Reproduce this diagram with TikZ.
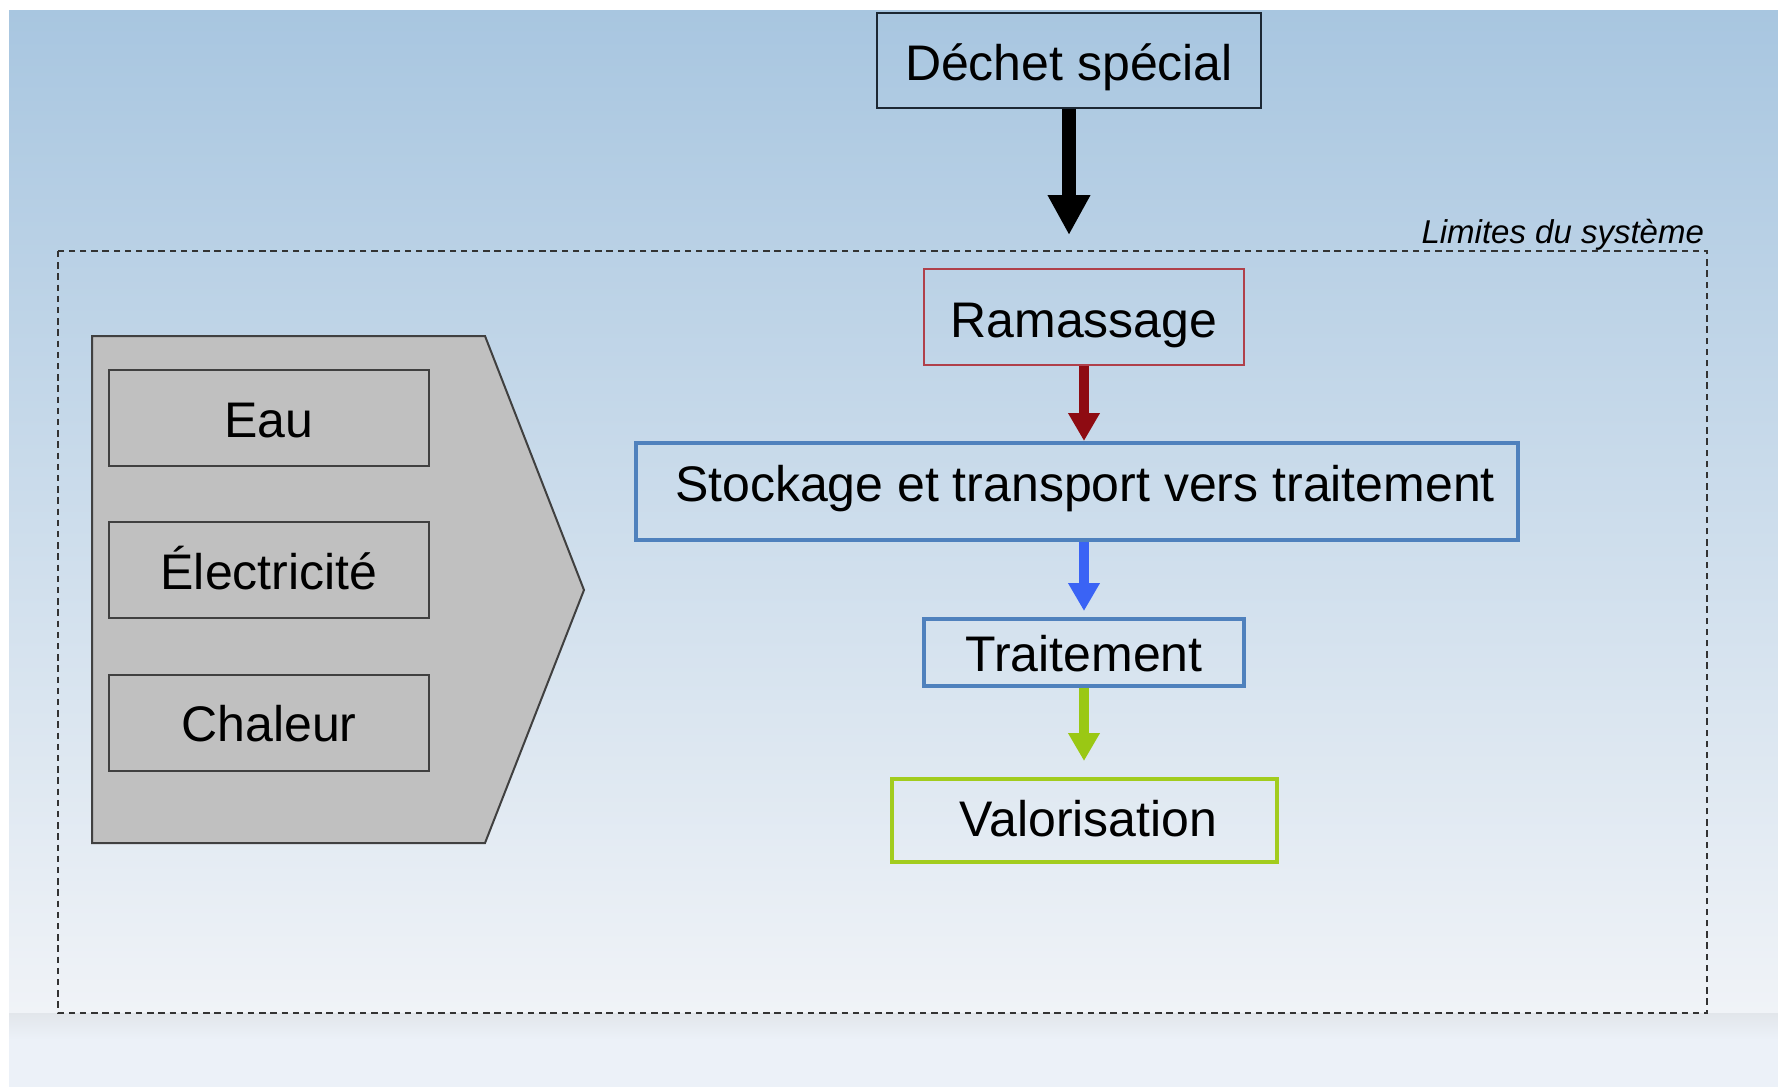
\documentclass[tikz,border=0pt]{standalone}
\usepackage{fontspec}
\setmainfont{Liberation Sans}
\usetikzlibrary{arrows.meta}

\definecolor{bgtop}{HTML}{A8C6E0}
\definecolor{bgmid}{HTML}{D2DEEA}
\definecolor{bgbot}{HTML}{F0F3F7}
\definecolor{bandtop}{HTML}{E2E6EB}
\definecolor{bandbot}{HTML}{ECF1F8}
\definecolor{darkframe}{HTML}{1C2733}
\definecolor{redframe}{HTML}{B0404A}
\definecolor{blueframe}{HTML}{4F81BD}
\definecolor{greenframe}{HTML}{A2CC1E}
\definecolor{redarrow}{HTML}{8E0B12}
\definecolor{bluearrow}{HTML}{3A63F5}
\definecolor{greenarrow}{HTML}{9AC814}
\definecolor{panelfill}{HTML}{C0C0C0}
\definecolor{panelline}{HTML}{404040}

\begin{document}
\begin{tikzpicture}[x=0.5pt,y=-0.5pt,
  label font/.style={font=\fontsize{25pt}{30pt}\selectfont},
  % vertical placement of the caps inside a box
  capline/.style={text height=#1, text depth=0pt},
  stagebox/.style={draw, rectangle, inner sep=0pt, label font, text=black},
  resourcebox/.style={stagebox, draw=panelline, line width=1pt,
    minimum width=160pt, minimum height=48pt, capline=19pt},
  flow/.style={line width=5pt,
    -{Triangle[length=14pt,width=15pt]}},
]
  % page and slide background
  \useasboundingbox (0,0) rectangle (1778,1087);
  \fill[white] (0,0) rectangle (1778,1087);
  \shade[top color=bgtop, middle color=bgmid, bottom color=bgbot]
    (9,10) rectangle (1778,1013);
  \shade[top color=bandtop, bottom color=bandbot]
    (9,1013) rectangle (1778,1040);
  \fill[bandbot] (9,1040) rectangle (1778,1087);

  % system boundary
  \draw[black!80, line width=0.8pt, dash pattern=on 3.2pt off 2.4pt]
    (58,251) rectangle (1707,1013);
  \node[anchor=base east, font=\fontsize{16.5pt}{20pt}\selectfont\itshape]
    (limits) at (1711,243) {Limites du système};

  % incoming waste
  \node[stagebox, draw=darkframe, line width=1pt, capline=20.9pt,
    minimum width=192pt, minimum height=47.5pt] (dechet) at (1069,60)
    {Déchet spécial};
  \coordinate (entry) at (1069,235);
  \draw[line width=7pt, -{Triangle[length=20pt,width=20pt]}]
    (dechet.south) -- (entry);

  % process chain
  \node[stagebox, draw=redframe, line width=0.7pt, capline=20.4pt,
    minimum width=160pt, minimum height=48pt] (ramassage) at (1084,317)
    {Ramassage};
  \node[stagebox, draw=blueframe, line width=2pt, capline=10.4pt,
    minimum width=441pt, minimum height=48.5pt] (stockage) at (1077,491.5)
    {\hspace*{8pt}Stockage et transport vers traitement};
  \node[stagebox, draw=blueframe, line width=2pt, capline=18.9pt,
    minimum width=160pt, minimum height=33.5pt] (traitement) at (1084,652.5)
    {Traitement};
  \node[stagebox, draw=greenframe, line width=2pt, capline=15.9pt,
    minimum width=192.5pt, minimum height=41.5pt] (valorisation) at (1084.5,820.5)
    {\hspace*{4pt}Valorisation};

  \draw[flow, redarrow] (ramassage.south) -- (ramassage.south |- stockage.north);
  \draw[flow, bluearrow, shorten >=3pt]
    (traitement.north |- stockage.south) -- (traitement.north);
  \draw[flow, greenarrow, shorten >=8pt]
    (traitement.south) -- (traitement.south |- valorisation.north);

  % resources panel
  \draw[fill=panelfill, draw=panelline, line width=1pt]
    (92,336) -- (485,336) -- (584,590) -- (485,843) -- (92,843) -- cycle;
  \node[resourcebox] (eau) at (269,418) {Eau};
  \node[resourcebox] (elec) at (269,570) {Électricité};
  \node[resourcebox, capline=19.4pt] (chaleur) at (269,722.5) {Chaleur};
\end{tikzpicture}
\end{document}
